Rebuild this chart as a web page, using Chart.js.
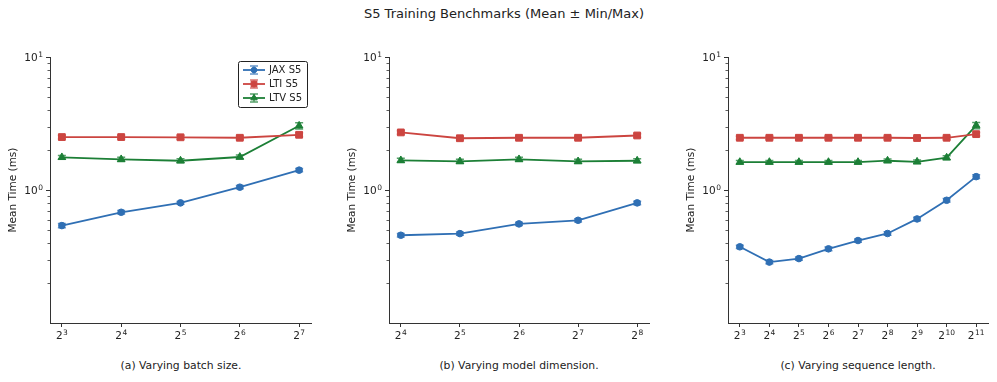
<!DOCTYPE html>
<html>
<head>
<meta charset="utf-8">
<script src="https://cdn.jsdelivr.net/npm/chart.js@4.4.0/dist/chart.umd.min.js"></script>
<style>
  body { margin: 0; background: #fff; width: 997px; height: 382px; position: relative; overflow: hidden;
         font-family: "DejaVu Sans", sans-serif; color: #222; }
  canvas { position: absolute; top: 0; }
  .txt { position: absolute; white-space: nowrap; transform: translateX(-50%); line-height: 1; }
</style>
</head>
<body>
<div class="txt" style="left:504px;top:7px;font-size:13px">S5 Training Benchmarks (Mean ± Min/Max)</div>
<canvas id="c1"></canvas>
<canvas id="c2"></canvas>
<canvas id="c3"></canvas>
<div class="txt" style="left:181px;top:361px;font-size:10.8px">(a) Varying batch size.</div>
<div class="txt" style="left:519px;top:361px;font-size:10.8px">(b) Varying model dimension.</div>
<div class="txt" style="left:858px;top:361px;font-size:10.8px">(c) Varying sequence length.</div>
<script>
// series info
const seriesNames = ['JAX S5', 'LTI S5', 'LTV S5'];
const colors = ['#2f6fb4', '#cc4540', '#1c7f36'];
const markers = ['circle', 'rect', 'triangle'];
const markerRadius = [3.3, 4.8, 4.4];

// y axis (log), labelled decades + minor ticks
const yMajor = [1, 10];
const yMinor = [0.2, 0.3, 0.4, 0.5, 0.6, 0.7, 0.8, 0.9, 2, 3, 4, 5, 6, 7, 8, 9];

// (a) batch size, x is the power of 2
const batchExp = [3, 4, 5, 6, 7];
const batchJax = [0.54, 0.68, 0.80, 1.05, 1.41];
const batchJaxMin = [0.52, 0.66, 0.78, 1.02, 1.37];
const batchJaxMax = [0.56, 0.70, 0.82, 1.08, 1.45];
const batchLti = [2.50, 2.50, 2.49, 2.47, 2.60];
const batchLtiMin = [2.42, 2.42, 2.41, 2.40, 2.51];
const batchLtiMax = [2.58, 2.58, 2.57, 2.55, 2.69];
const batchLtv = [1.76, 1.70, 1.66, 1.77, 3.04];
const batchLtvMin = [1.70, 1.64, 1.60, 1.71, 2.87];
const batchLtvMax = [1.82, 1.76, 1.72, 1.83, 3.20];

// (b) model dimension
const dimExp = [4, 5, 6, 7, 8];
const dimJax = [0.457, 0.470, 0.556, 0.592, 0.80];
const dimJaxMin = [0.443, 0.456, 0.540, 0.575, 0.776];
const dimJaxMax = [0.471, 0.484, 0.572, 0.609, 0.824];
const dimLti = [2.71, 2.45, 2.47, 2.47, 2.57];
const dimLtiMin = [2.63, 2.38, 2.40, 2.40, 2.49];
const dimLtiMax = [2.79, 2.52, 2.54, 2.54, 2.65];
const dimLtv = [1.67, 1.64, 1.70, 1.64, 1.66];
const dimLtvMin = [1.61, 1.58, 1.64, 1.58, 1.60];
const dimLtvMax = [1.73, 1.70, 1.76, 1.70, 1.72];

// (c) sequence length
const seqExp = [3, 4, 5, 6, 7, 8, 9, 10, 11];
const seqJax = [0.374, 0.287, 0.305, 0.361, 0.417, 0.471, 0.606, 0.837, 1.26];
const seqJaxMin = [0.363, 0.279, 0.296, 0.350, 0.405, 0.457, 0.588, 0.812, 1.22];
const seqJaxMax = [0.385, 0.295, 0.314, 0.372, 0.429, 0.485, 0.624, 0.862, 1.30];
const seqLti = [2.47, 2.47, 2.47, 2.47, 2.47, 2.47, 2.46, 2.47, 2.63];
const seqLtiMin = [2.40, 2.40, 2.40, 2.40, 2.40, 2.40, 2.39, 2.40, 2.55];
const seqLtiMax = [2.54, 2.54, 2.54, 2.54, 2.54, 2.54, 2.53, 2.54, 2.71];
const seqLtv = [1.62, 1.62, 1.62, 1.62, 1.62, 1.66, 1.63, 1.75, 3.06];
const seqLtvMin = [1.57, 1.57, 1.57, 1.57, 1.57, 1.61, 1.58, 1.69, 2.89];
const seqLtvMax = [1.67, 1.67, 1.67, 1.67, 1.67, 1.71, 1.68, 1.81, 3.22];

const FONT = '"DejaVu Sans", sans-serif';
const INK = '#222';

function withAlpha(hex, a) {
  const n = parseInt(hex.slice(1), 16);
  return `rgba(${n >> 16},${(n >> 8) & 255},${n & 255},${a})`;
}

// base with a raised exponent, like 2^5 or 10^1
function drawPower(ctx, base, exp, x, y, align) {
  ctx.font = '10.5px ' + FONT;
  const bw = ctx.measureText(base).width;
  ctx.font = '7.5px ' + FONT;
  const ew = ctx.measureText(exp).width;
  const total = bw + ew + 0.5;
  let left = align === 'right' ? x - total : x - total / 2;
  ctx.textAlign = 'left';
  ctx.textBaseline = 'alphabetic';
  ctx.font = '10.5px ' + FONT;
  ctx.fillText(base, left, y);
  ctx.font = '7.5px ' + FONT;
  ctx.fillText(exp, left + bw + 0.5, y - 4);
}

// min/max whiskers with caps
const errorBars = {
  id: 'errorBars',
  beforeDatasetsDraw(chart) {
    const { ctx, scales: { x, y } } = chart;
    chart.data.datasets.forEach(ds => {
      ctx.save();
      ctx.strokeStyle = withAlpha(ds.borderColor, 0.75);
      ctx.lineWidth = 1.5;
      ds.data.forEach((p, i) => {
        const px = x.getPixelForValue(p.x);
        const lo = y.getPixelForValue(ds.errMin[i]);
        const hi = y.getPixelForValue(ds.errMax[i]);
        ctx.beginPath();
        ctx.moveTo(px, lo); ctx.lineTo(px, hi);
        ctx.moveTo(px - 4, lo); ctx.lineTo(px + 4, lo);
        ctx.moveTo(px - 4, hi); ctx.lineTo(px + 4, hi);
        ctx.stroke();
      });
      ctx.restore();
    });
  }
};

// minor ticks on the log axis and the tick labels with exponents
const axisMarks = {
  id: 'axisMarks',
  afterDraw(chart) {
    const { ctx, chartArea, scales: { x, y } } = chart;
    ctx.save();
    ctx.strokeStyle = '#333';
    ctx.lineWidth = 0.8;
    yMinor.forEach(v => {
      const py = Math.round(y.getPixelForValue(v)) + 0.5;
      ctx.beginPath();
      ctx.moveTo(chartArea.left - 2.5, py);
      ctx.lineTo(chartArea.left, py);
      ctx.stroke();
    });
    ctx.fillStyle = INK;
    x.ticks.forEach(t => {
      drawPower(ctx, '2', String(t.value), x.getPixelForValue(t.value), chartArea.bottom + 15.5, 'center');
    });
    y.ticks.forEach(t => {
      drawPower(ctx, '10', String(Math.round(Math.log10(t.value))), chartArea.left - 7, y.getPixelForValue(t.value) + 3.8, 'right');
    });
    ctx.restore();
  }
};

const legendBox = {
  id: 'legendBox',
  afterDraw(chart) {
    const { ctx, chartArea } = chart;
    const w = 69, h = 46;
    const left = chartArea.right - 4 - w, top = chartArea.top + 4;
    ctx.save();
    ctx.fillStyle = '#fff';
    ctx.strokeStyle = '#222';
    ctx.lineWidth = 1;
    ctx.beginPath();
    ctx.roundRect(left + 0.5, top + 0.5, w, h, 2);
    ctx.fill(); ctx.stroke();
    ctx.font = '10px ' + FONT;
    ctx.textBaseline = 'middle';
    chart.data.datasets.forEach((ds, i) => {
      const ry = top + 9 + i * 14;
      const mx = left + 16;
      ctx.strokeStyle = ds.borderColor;
      ctx.lineWidth = 1.8;
      ctx.beginPath();
      ctx.moveTo(left + 5, ry); ctx.lineTo(left + 27, ry);
      ctx.stroke();
      ctx.strokeStyle = withAlpha(ds.borderColor, 0.75);
      ctx.lineWidth = 1.5;
      ctx.beginPath();
      ctx.moveTo(mx, ry - 4); ctx.lineTo(mx, ry + 4);
      ctx.moveTo(mx - 4, ry - 4); ctx.lineTo(mx + 4, ry - 4);
      ctx.moveTo(mx - 4, ry + 4); ctx.lineTo(mx + 4, ry + 4);
      ctx.stroke();
      ctx.fillStyle = ds.borderColor;
      ctx.strokeStyle = ds.borderColor;
      ctx.lineWidth = 1;
      Chart.helpers.drawPoint(ctx, { pointStyle: ds.pointStyle, radius: ds.pointRadius * 0.85, borderWidth: 1, rotation: 0 }, mx, ry);
      ctx.fillStyle = INK;
      ctx.fillText(ds.label, left + 31, ry + 0.5);
    });
    ctx.restore();
  }
};

function makePanel(id, areaLeft, areaRight, padRight, exps, series, showLegend) {
  const canvas = document.getElementById(id);
  const canvasLeft = areaLeft - 50;
  canvas.style.left = canvasLeft + 'px';
  canvas.width = areaRight - canvasLeft + padRight;
  canvas.height = 340;
  const span = exps[exps.length - 1] - exps[0];

  const datasets = series.map((s, i) => ({
    label: seriesNames[i],
    data: exps.map((e, j) => ({ x: e, y: s[0][j] })),
    errMin: s[1],
    errMax: s[2],
    borderColor: colors[i],
    backgroundColor: colors[i],
    borderWidth: 1.8,
    pointStyle: markers[i],
    pointRadius: markerRadius[i],
    pointBorderWidth: 1,
    tension: 0
  }));

  const tickFont = { family: FONT, size: 10 };
  new Chart(canvas, {
    type: 'line',
    data: { datasets },
    options: {
      responsive: false,
      animation: false,
      devicePixelRatio: 1,
      layout: { padding: { top: 57, right: padRight, bottom: 0, left: 0 } },
      plugins: { legend: { display: false }, tooltip: { enabled: false } },
      scales: {
        x: {
          type: 'linear',
          min: exps[0] - 0.05 * span,
          max: exps[exps.length - 1] + 0.05 * span,
          afterBuildTicks: s => { s.ticks = exps.map(v => ({ value: v })); },
          afterFit: s => { s.height = 17; },
          ticks: { callback: () => '', autoSkip: false, maxRotation: 0, font: tickFont },
          grid: { drawOnChartArea: false, tickLength: 4, color: '#333', tickWidth: 1 },
          border: { display: true, color: '#333', width: 1 }
        },
        y: {
          type: 'logarithmic',
          min: 0.1,
          max: 10,
          afterBuildTicks: s => { s.ticks = yMajor.map(v => ({ value: v, major: true })); },
          afterFit: s => { s.width = 50; },
          ticks: { callback: () => '', autoSkip: false, font: tickFont },
          grid: { drawOnChartArea: false, tickLength: 4, color: '#333', tickWidth: 1 },
          border: { display: true, color: '#333', width: 1 },
          title: { display: true, text: 'Mean Time (ms)', font: { family: FONT, size: 10.5 }, color: INK, padding: { top: 7, bottom: 0 } }
        }
      }
    },
    plugins: showLegend ? [errorBars, axisMarks, legendBox] : [errorBars, axisMarks]
  });
}

makePanel('c1', 50, 311, 15, batchExp, [
  [batchJax, batchJaxMin, batchJaxMax],
  [batchLti, batchLtiMin, batchLtiMax],
  [batchLtv, batchLtvMin, batchLtvMax]
], true);
makePanel('c2', 389, 649, 15, dimExp, [
  [dimJax, dimJaxMin, dimJaxMax],
  [dimLti, dimLtiMin, dimLtiMax],
  [dimLtv, dimLtvMin, dimLtvMax]
], false);
makePanel('c3', 728, 988, 9, seqExp, [
  [seqJax, seqJaxMin, seqJaxMax],
  [seqLti, seqLtiMin, seqLtiMax],
  [seqLtv, seqLtvMin, seqLtvMax]
], false);
</script>
</body>
</html>
